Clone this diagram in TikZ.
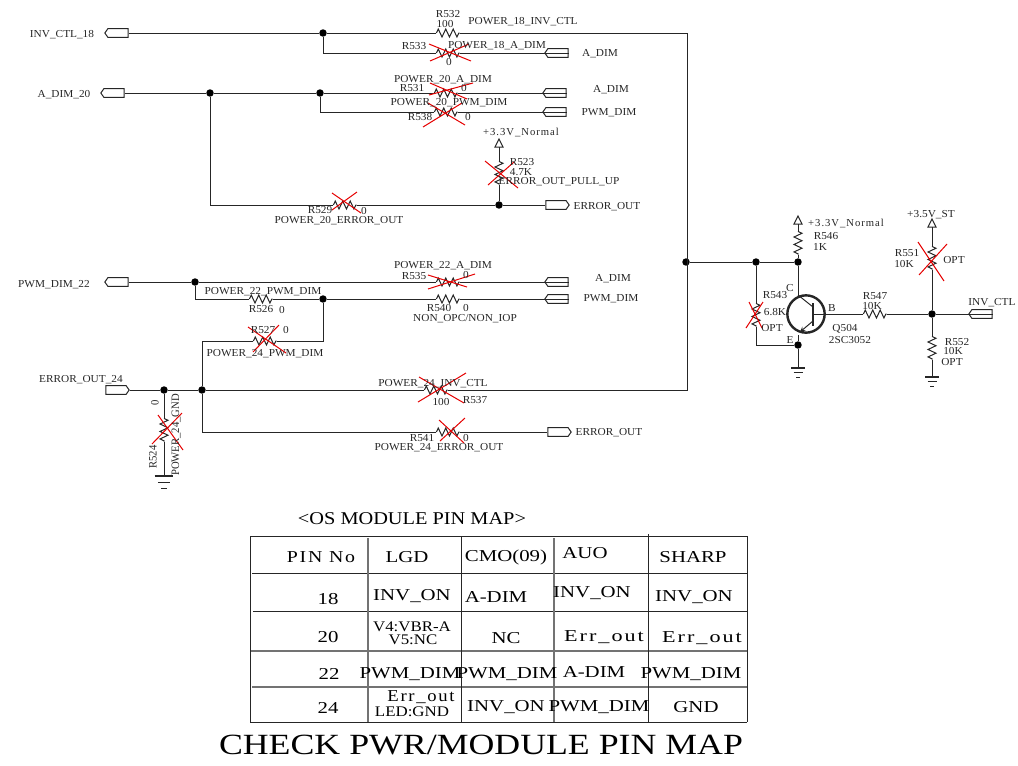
\documentclass[tikz,border=0pt]{standalone}
\usepackage{fontspec}
\setmainfont{Liberation Serif}
\newfontfamily\spacedfont[LetterSpace=9]{Liberation Serif}
\usetikzlibrary{shapes.symbols,decorations.pathmorphing}
\tikzset{
  wire/.style={line width=0.75pt,black!85},
  crossred/.style={line width=0.75pt,red!90!black},
  lab/.style={font=\fontsize{8}{8}\selectfont,inner sep=0pt,xscale=1.06,black!85},
  slab/.style={font=\fontsize{8}{8}\selectfont\spacedfont,inner sep=0pt,black!85},
  tabtxt/.style={font=\fontsize{12.5}{12.5}\selectfont,inner sep=0pt,xscale=1.25},
  tabsp/.style={font=\fontsize{12.5}{12.5}\selectfont\spacedfont,inner sep=0pt},
  tabsm/.style={font=\fontsize{11}{11}\selectfont,inner sep=0pt,xscale=1.15},
  dot/.style={circle,fill=black,inner sep=0pt,minimum size=5.6pt},
  resh/.style={inner sep=0pt,minimum width=17pt,minimum height=6pt},
  resv/.style={inner sep=0pt,minimum width=6pt,minimum height=17pt},
  zigzagline/.style={wire,decorate,decoration={zigzag,segment length=5.6pt,amplitude=3pt}},
  portl/.style={signal,signal to=west,signal pointer angle=110,draw,wire,fill=white,inner sep=0pt,minimum width=17.5pt,minimum height=6.4pt},
  portr/.style={signal,signal to=east,signal pointer angle=110,draw,wire,fill=white,inner sep=0pt,minimum width=17.5pt,minimum height=6.4pt},
  vcc/.pic={\draw[wire,fill=white] (-4,0) -- (0,-8) -- (4,0) -- cycle;},
  gnd/.pic={
    \draw[line width=1.2pt,black!85] (-7,0) -- (7,0);
    \draw[wire] (-4.5,4.5) -- (4.5,4.5);
    \draw[wire] (-2,9) -- (2,9);
  }
}
\begin{document}
\begin{tikzpicture}[x=0.75pt,y=-0.75pt]
\useasboundingbox (0,0) rectangle (1018,765);
% ports
\foreach \n/\x/\y in {PinvA/118/33,PdimA/114/93,PpwmA/118/282,PaA/558/53,PaB/556/93,PpB/556/112,PaC/558/282,PpC/558/299,PinvB/982/314}
\node[portl] (\n) at (\x,\y) {};
\foreach \n/\x/\y in {PerrA/556/205,PerrB/116/390,PerrC/558/432}
\node[portr] (\n) at (\x,\y) {};
% resistors
\foreach \n/\x/\y in {R532/448/33,R533/448/53,R531/446/93,R538/446/112,R529/345/205,R535/448/282,R526/261/299,R540/448/299,R527/265/341,R537/436/390,R541/448/432,R547/875/314}
\node[resh] (\n) at (\x,\y) {};
\foreach \n/\x/\y in {R523/499/173,R524/164/430,R546/798/243,R543/756/315,R551/932/258,R552/932/348}
\node[resv] (\n) at (\x,\y) {};
\foreach \n in {R532,R533,R531,R538,R529,R535,R526,R540,R527,R537,R541,R547}
\draw[zigzagline] (\n.west) -- (\n.east);
\foreach \n in {R523,R524,R546,R543,R551,R552}
\draw[zigzagline] (\n.north) -- (\n.south);
% junctions
\foreach \n/\x/\y in {JinvA/323/33,JdimA/210/93,JdimB/320/93,JerrA/499/205,JpwmA/195/282,JpwmB/323/299,JerrB/164/390,JerrC/202/390,JctlA/686/262,JctlB/756/262,JctlC/798/262,JemiA/798/345,JinvB/932/314}
\node[dot] (\n) at (\x,\y) {};
% supply and ground
\coordinate (VccA) at (499,147);
\coordinate (VccB) at (798,224);
\coordinate (VccC) at (932,227);
\coordinate (GndA) at (164,476);
\coordinate (GndB) at (798,368);
\coordinate (GndC) at (932,377);
\foreach \n in {VccA,VccB,VccC}
\pic at (\n) {vcc};
\pic[scale=1.35] at (GndA) {gnd};
\pic at (GndB) {gnd};
\pic at (GndC) {gnd};
% corners
\coordinate (CtopR) at (687,33);
\coordinate (CbotR) at (687,390);
% transistor
\node[circle,draw,line width=1.8pt,black!85,inner sep=0pt,minimum size=28pt] (Q504) at (806,314) {};
\coordinate (Qbase) at (813,314);
\coordinate (Qcol) at (798,295);
\coordinate (Qemi) at (800,332);
\coordinate (Qout) at (798,335);
\draw[line width=0.9pt,black!85] (813,303) -- (813,326);
\draw[wire] (813,307) -- (Qcol);
\draw[wire,-stealth] (813,321) -- (Qemi);
% nets
\draw[wire] (PinvA.east) -- (JinvA) -- (R532.west);
\draw[wire] (R532.east) -- (CtopR) -- (CbotR) -- (R537.east);
\draw[wire] (JinvA) |- (R533.west);
\draw[wire] (R533.east) -- (PaA.east);
\draw[wire] (PdimA.east) -- (JdimA) -- (JdimB) -- (R531.west);
\draw[wire] (R531.east) -- (PaB.east);
\draw[wire] (JdimB) |- (R538.west);
\draw[wire] (R538.east) -- (PpB.east);
\draw[wire] (JdimA) |- (R529.west);
\draw[wire] (R529.east) -- (JerrA) -- (PerrA.west);
\draw[wire] (JerrA) -- (R523.south);
\draw[wire] (R523.north) -- (VccA);
\draw[wire] (PpwmA.east) -- (JpwmA) -- (R535.west);
\draw[wire] (R535.east) -- (PaC.east);
\draw[wire] (JpwmA) |- (R526.west);
\draw[wire] (R526.east) -- (JpwmB) -- (R540.west);
\draw[wire] (R540.east) -- (PpC.east);
\draw[wire] (JpwmB) |- (R527.east);
\draw[wire] (R527.west) -| (JerrC);
\draw[wire] (PerrB.east) -- (JerrB) -- (JerrC) -- (R537.west);
\draw[wire] (JerrB) -- (R524.north);
\draw[wire] (R524.south) -- (GndA);
\draw[wire] (JerrC) |- (R541.west);
\draw[wire] (R541.east) -- (PerrC.west);
\draw[wire] (JctlA) -- (JctlB) -- (JctlC);
\draw[wire] (JctlC) -- (R546.south);
\draw[wire] (R546.north) -- (VccB);
\draw[wire] (JctlC) -- (Qcol);
\draw[wire] (Qout) -- (JemiA) -- (GndB);
\draw[wire] (JctlB) -- (R543.north);
\draw[wire] (R543.south) |- (JemiA);
\draw[wire] (Qbase) -- (R547.west);
\draw[wire] (R547.east) -- (JinvB) -- (PinvB.east);
\draw[wire] (VccC) -- (R551.north);
\draw[wire] (R551.south) -- (JinvB) -- (R552.north);
\draw[wire] (R552.south) -- (GndC);
% red crosses
\foreach \a/\b/\c/\d/\e/\f/\g/\h in {429/44/471/61/430/61/469/44,429/95/473/83/430/83/467/99,428/103/465/125/423/127/462/103,485/161/518/188/488/185/514/162,332/210/357/192/332/193/361/213,248/327/286/353/279/325/253/352,158/415/183/450/152/444/182/413,428/275/467/287/428/289/475/274,419/377/464/403/418/402/466/373,439/420/464/443/440/441/465/418,749/302/762/328/746/328/763/302,918/242/944/281/947/244/919/275}
{\draw[crossred] (\a,\b) -- (\c,\d);
\draw[crossred] (\e,\f) -- (\g,\h);}
% labels
\foreach \n/\x/\y/\t in {
lInvA/62/35/INV\_CTL\_18,lDimA/64/95/A\_DIM\_20,lPwmA/54/285/PWM\_DIM\_22,lErrA/81/380/ERROR\_OUT\_24,
lR532/448/14/R532,vR532/445/24/100,nR532/523/22/POWER\_18\_INV\_CTL,
lR533/414/46/R533,nR533/497/46/POWER\_18\_A\_DIM,vR533/449/62/0,lPaA/600/54/A\_DIM,
nR531/443/80/POWER\_20\_A\_DIM,lR531/412/88/R531,vR531/464/88/0,lPaB/611/90/A\_DIM,
nR538/449/103/POWER\_20\_PWM\_DIM,lR538/420/117/R538,vR538/468/117/0,lPpB/609/113/PWM\_DIM,
lR529/320/210/R529,vR529/364/211/0,nR529/339/221/POWER\_20\_ERROR\_OUT,lPerrA/607/207/ERROR\_OUT,
lR523/522/162/R523,vR523/521/172/4.7K,nR523/559/182/ERROR\_OUT\_PULL\_UP,
nR535/443/266/POWER\_22\_A\_DIM,lR535/414/276/R535,vR535/466/275/0,lPaC/613/279/A\_DIM,
nR526/263/292/POWER\_22\_PWM\_DIM,lR526/261/309/R526,vR526/282/310/0,
lR540/439/308/R540,vR540/466/308/0,nR540/465/319/{NON\_OPC/NON\_IOP},lPpC/611/299/PWM\_DIM,
lR527/263/330/R527,vR527/286/330/0,nR527/265/354/POWER\_24\_PWM\_DIM,
nR537/433/384/POWER\_24\_INV\_CTL,lR537/475/400/R537,vR537/441/402/100,
lR541/422/438/R541,vR541/466/438/0,nR541/439/448/POWER\_24\_ERROR\_OUT,lPerrC/609/433/ERROR\_OUT,
lR546/826/236/R546,vR546/820/247/1K,lC/790/288/C,lE/790/340/E,lB/832/308/B,
lR543/775/295/R543,vR543/775/312/6.8K,oR543/772/328/OPT,lQ/845/329/Q504,vQ/850/340/2SC3052,
lR547/875/296/R547,vR547/872/306/10K,lPinvB/992/303/INV\_CTL,
lR551/907/253/R551,vR551/904/264/10K,oR551/954/260/OPT,
lR552/957/342/R552,vR552/953/351/10K,oR552/952/362/OPT,lVccC/931/215/+3.5V\_ST}
\node[lab] (\n) at (\x,\y) {\t};
\node[slab] (lVccA) at (521,132) {+3.3V\_Normal};
\node[slab] (lVccB) at (846,223) {+3.3V\_Normal};
\node[lab,rotate=90] (lR524) at (153,457) {R524};
\node[lab,rotate=90] (vR524) at (155,403) {0};
\node[lab,rotate=90] (nR524) at (176,435) {POWER\_24\_GND};
% pin map table
\node[inner sep=0pt,font=\fontsize{13.5}{13.5}\selectfont,xscale=1.13] (tabtitle) at (412,519) {<OS MODULE PIN MAP>};
\foreach \y/\s in {536/250,573/252,611/253,722/250}
\draw[wire] (\s,\y) -- (747,\y);
\foreach \y/\s in {651/250,687/252}
\draw[line width=1pt,black!55] (\s,\y) -- (747,\y);
\foreach \x in {250,461,747}
\draw[wire] (\x,536) -- (\x,722);
\foreach \x in {368,554}
\draw[line width=0.9pt,black!55] (\x,538) -- (\x,722);
\draw[wire] (648,534) -- (648,722);
\foreach \n/\x/\y/\t in {
tLgd/407/557/LGD,tCmo/506/557/CMO(09),tAuo/585/553/AUO,tSharp/693/557/SHARP,
tA/328/599/18,tAa/412/596/INV\_ON,tAb/496/597/A-DIM,tAc/592/593/INV\_ON,tAd/694/597/INV\_ON,
tB/328/637/20,tBb/506/638/NC,
tC/329/674/22,tCa/410/674/PWM\_DIM,tCb/507/674/PWM\_DIM,tCc/594/672/A-DIM,tCd/691/674/PWM\_DIM,
tD/328/708/24,tDb/506/707/INV\_ON,tDc/599/707/PWM\_DIM,tDd/696/707/GND}
\node[tabtxt] (\n) at (\x,\y) {\t};
\node[tabsp,xscale=1.19] (tPin) at (321,557) {PIN No};
\node[tabsm] (tBa) at (412,627) {V4:VBR-A};
\node[tabsm] (tBa2) at (413,640) {V5:NC};
\node[tabsp,xscale=1.33] (tBc) at (604,637) {Err\_out};
\node[tabsp,xscale=1.33] (tBd) at (702,638) {Err\_out};
\node[tabsp,xscale=1.12] (tDa) at (421,697) {Err\_out};
\node[tabsm] (tDa2) at (412,712) {LED:GND};
\node[inner sep=0pt,font=\fontsize{22}{22}\selectfont,xscale=1.22] (maintitle) at (481,745) {CHECK PWR/MODULE PIN MAP};
\end{tikzpicture}
\end{document}
